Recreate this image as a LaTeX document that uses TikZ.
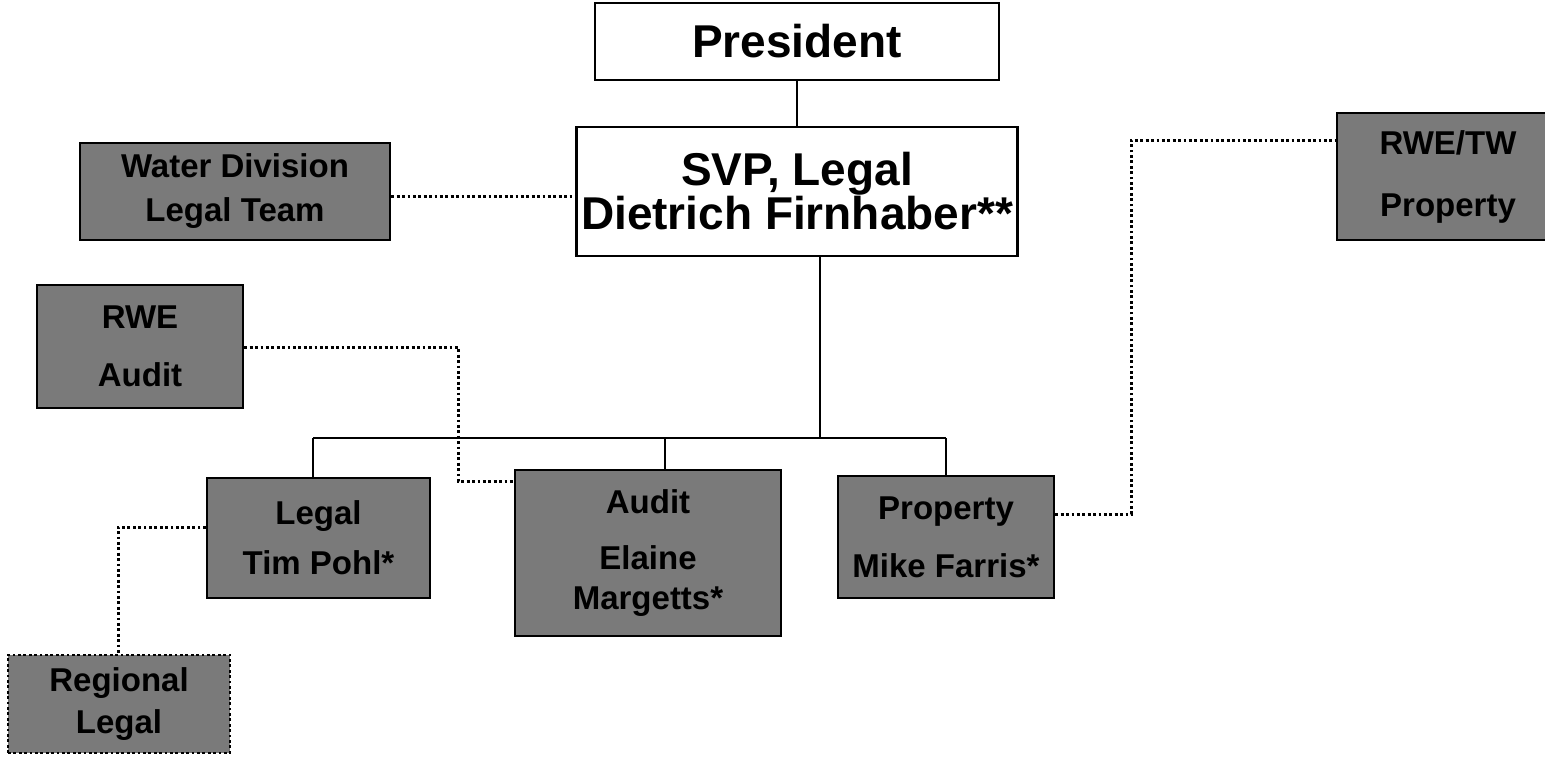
\documentclass[tikz,border=0pt]{standalone}
\usepackage{fontspec}
\setmainfont{Liberation Sans}
\begin{document}
\begin{tikzpicture}[x=1pt,y=-1pt,
  whitebox/.style={draw=black,line width=2.6pt,fill=white,inner sep=0pt,align=center,
    font=\bfseries\fontsize{46}{48}\selectfont},
  graybox/.style={draw=black,line width=2.6pt,fill=black!52,inner sep=0pt,align=center,
    font=\bfseries\fontsize{33}{40}\selectfont},
  link/.style={line width=2.4pt},
  dotlink/.style={line width=3pt,dash pattern=on 2.8pt off 2.6pt}]

\useasboundingbox (0,0) rectangle (1545,756);
\begin{scope}
\clip (0,0) rectangle (1545,756);

% top of the chart
\node[whitebox,minimum width=404pt,minimum height=77pt] (pres) at (797,41.5) {President};
\node[whitebox,minimum width=441pt,minimum height=129pt] (svp) at (797,191.5)
  {SVP, Legal\\[-4pt]Dietrich Firnhaber**};

% side units
\node[graybox,minimum width=310pt,minimum height=97pt] (water) at (235,191.5)
  {Water Division\\[4pt]Legal Team};
\node[graybox,minimum width=222pt,minimum height=127pt] (rwetw) at (1448,176.5)
  {RWE/TW\\[22pt]Property};
\node[graybox,minimum width=206pt,minimum height=123pt] (rweaudit) at (140,346.5)
  {RWE\\[18pt]Audit};

% direct reports
\node[graybox,minimum width=223pt,minimum height=120pt] (legal) at (318.5,538)
  {Legal\\[10pt]Tim Pohl*};
\node[graybox,minimum width=266pt,minimum height=166pt] (audit) at (648,553)
  {Audit\\[16pt]Elaine\\Margetts*};
\node[graybox,minimum width=216pt,minimum height=122pt] (prop) at (946,537)
  {Property\\[18pt]Mike Farris*};
\node[graybox,dash pattern=on 2.8pt off 2.6pt,minimum width=222pt,minimum height=98pt] (regional) at (119,704)
  {Regional\\[2pt]Legal};

% reporting lines
\coordinate (svpdrop) at (820,438);
\coordinate (barL) at (313,438);
\coordinate (barR) at (946,438);
\coordinate (dropA) at (665,438);

\draw[link] (pres.south) -- (svp.north);
\draw[link] (svp.south -| svpdrop) -- (svpdrop);
\draw[link] (barL) -- (barR);
\draw[link] (barL) -- (barL |- legal.north);
\draw[link] (dropA) -- (dropA |- audit.north);
\draw[link] (barR) -- (barR |- prop.north);

% dotted-line relationships
\coordinate (wd) at (480,196);
\coordinate (ra1) at (458,347);
\coordinate (ra2) at (458,481);
\coordinate (pt1) at (1131,514);
\coordinate (pt2) at (1131,140);
\coordinate (lg1) at (118,527);

\draw[dotlink] (water.east |- wd) -- (wd -| svp.west);
\draw[dotlink] (rweaudit.east |- ra1) -- (ra1) -- (ra2) -- (ra2 -| audit.west);
\draw[dotlink] (prop.east |- pt1) -- (pt1) -- (pt2) -- (pt2 -| rwetw.west);
\draw[dotlink] (legal.west |- lg1) -- (lg1) -- (lg1 |- regional.north);
\end{scope}
\end{tikzpicture}
\end{document}
